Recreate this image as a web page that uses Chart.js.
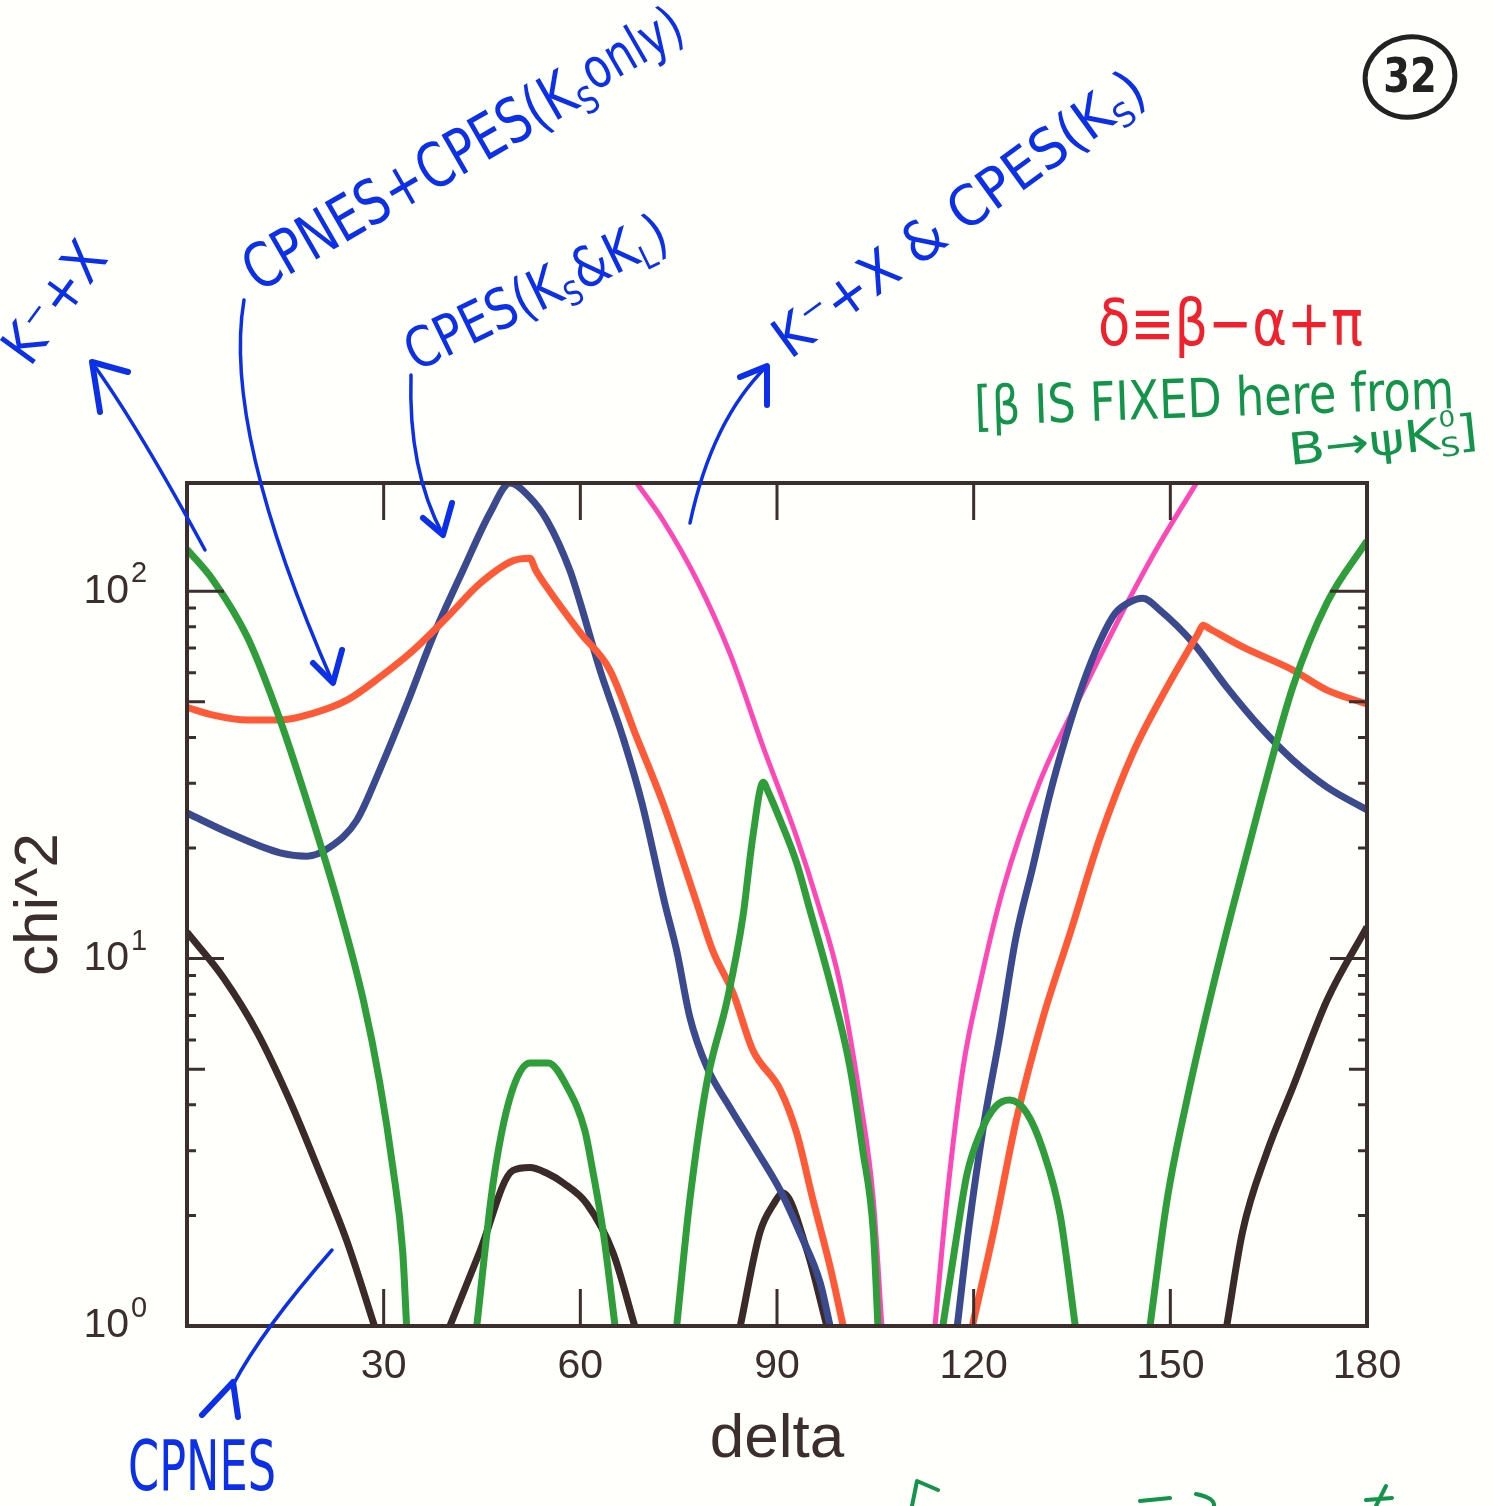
<!DOCTYPE html>
<html>
<head>
<meta charset="utf-8">
<script src="https://cdn.jsdelivr.net/npm/chart.js@4.4.0/dist/chart.umd.min.js"></script>
<style>
  html, body { margin: 0; padding: 0; background: #fffffb; }
  canvas { display: block; }
</style>
</head>
<body>
<canvas id="chi2Chart" width="1494" height="1506"></canvas>
<script>
// chi^2 vs delta scans, one array pair per fit; null splits a curve into arcs

// K-+X
const kxDelta = [0, 4, 9.2, 14.2, 19.2, 23.1, 26.9, 29.4, 31.4, 32.9, 33.5, null,
  44.2, 46.7, 49.3, 52.3, 55.1, 58, 60.7, 61.8, 63.5, 65.3, null,
  74.7, 76.7, 79.3, 82.4, 84.8, 86.3, 87.9, 88.6, 90.5, 93, 95, 98.1, 101.1, 103.1, 104.7, 105.4, null,
  115.3, 117.5, 119, 121, 123.3, 125.5, 128.1, 130.6, 133.2, 135.5, null,
  146.9, 149.5, 152.5, 156, 159.3, 163.7, 168.7, 173.9, 180];
const kxChi2 = [130, 107, 75, 44.6, 23.8, 14, 7.7, 4.6, 2.7, 1.6, 1, null,
  1, 2.45, 4.2, 5.2, 5.2, 4.47, 3.4, 2.7, 1.8, 1, null,
  1, 2.2, 4.6, 7.7, 13, 21.4, 30.2, 28.6, 23.8, 18.2, 13.6, 8.6, 5.1, 3.0, 1.8, 1, null,
  1, 1.8, 2.6, 3.35, 3.95, 4.12, 3.8, 3.0, 2.0, 1, null,
  1, 2.2, 4.1, 7.7, 13.3, 26.5, 55, 93, 137];

// CPNES+CPES (Ks only)
const cpnesCpesKsDelta = [0, 4, 9.2, 14.2, 19.2, 24.4, 29.4, 34.5, 39.7, 44.7, 49.7, 52.3, 53.2, 54.9, 60, 64.5, 68.6,
  72.6, 77.8, 80.2, 83.3, 86.3, 90.5, 93, 95.5, 98.1, 100.1, null,
  119.8, 123, 126.6, 130.6, 134.7, 139.3, 144.3, 149.5, 154.2, 155, 156, 161.1, 168.7, 173.9, 180];
const cpnesCpesKsChi2 = [48.3, 46, 44.6, 44.6, 46.5, 50.5, 58.3, 69, 85, 105, 121, 123, 114, 102.5, 77, 61, 40,
  26.5, 14.1, 10.5, 8.06, 5.64, 4.39, 3.35, 2.2, 1.45, 1, null,
  1, 1.79, 3.7, 6.93, 11.7, 21.4, 36.3, 54.8, 76.5, 80.8, 79, 70.4, 61, 53.8, 49.3];

// CPES (Ks & KL)
const cpesKsKlDelta = [0, 6.6, 14.2, 18.3, 21.8, 25.9, 29.4, 33.6, 37.5, 42.1, 46.2, 49.3, 52.3, 54.9, 58.4, 60,
  63, 66.5, 69.4, 72.9, 74.7, 76.7, 79.3, 82.8, 86.9, 90.5, 93.5, 96.6, 98.1, null,
  117.5, 119.3, 121.4, 124, 126.4, 129, 131.6, 134, 136.6, 139.2, 141.6, 143.8, 145.8, 148.4, 153.5, 158.6,
  163.7, 168.7, 173.9, 180];
const cpesKsKlChi2 = [24.9, 21.9, 19.4, 19.0, 20.1, 23.8, 32.6, 49.6, 75, 114, 163, 197, 180, 156, 114, 92.8,
  61, 40, 26.5, 14.1, 10.5, 6.93, 5.07, 3.94, 3.0, 2.34, 1.79, 1.31, 1, null,
  1, 1.87, 3.41, 6.19, 11.3, 17.7, 27.9, 39.8, 55.5, 72.6, 87.1, 93.4, 95.7, 88.8, 72.2, 54.8,
  42.7, 34.7, 29.3, 25.4];

// K-+X & CPES (Ks)
const kxCpesKsDelta = [68.6, 72.6, 77.8, 82.8, 87.9, 93, 96.1, 99.6, 102.7, 104.7, 106, null,
  114.1, 115.9, 118.4, 121, 124.5, 130, 137, 143.4, 148.4, 154];
const kxCpesKsChi2 = [197, 156, 107, 67.8, 37.6, 21.4, 14.4, 8.57, 4.12, 2.2, 1, null,
  1, 2.2, 5.07, 8.6, 15.5, 30, 55, 92.7, 135, 197];

// CPNES
const cpnesDelta = [0, 5.5, 10.7, 15.7, 20.3, 24.4, 28.6, null,
  40.1, 44.7, 49.7, 52.3, 55, 57.4, 61, 65, 68.3, null,
  84.4, 87.4, 89.5, 90.9, 94.6, 97.6, null,
  158.6, 161, 164.7, 168.7, 173.9, 180];
const cpnesChi2 = [11.8, 8.9, 6.3, 4.1, 2.6, 1.7, 1, null,
  1, 1.6, 2.65, 2.7, 2.6, 2.45, 2.15, 1.58, 1, null,
  1, 1.8, 2.15, 2.3, 1.6, 1, null,
  1, 1.8, 2.96, 4.47, 7.7, 12.2];

const deltaTicks = [30, 60, 90, 120, 150, 180];
const chi2Decades = [0, 1, 2];

const AXIS = '#3b2e2c';
const FONT = '"Liberation Sans", Arial, Helvetica, sans-serif';
const HAND = '"DejaVu Sans", sans-serif';
const BLUE = '#0c30ea';
const RED = '#f0202c';
const GREEN = '#12954a';

function points(delta, chi2) {
  let last = 0;
  return delta.map((d, i) => {
    if (d !== null) last = d;
    return {x: last, y: chi2[i]};
  });
}

function curve(delta, chi2, color, width) {
  return {
    data: points(delta, chi2),
    borderColor: color,
    borderWidth: width,
    borderCapStyle: 'butt',
    borderJoinStyle: 'round',
    cubicInterpolationMode: 'monotone',
    pointRadius: 0,
    fill: false,
    spanGaps: false
  };
}

// handwritten notes around the plot; back pulls a run left over the previous one
const notes = [
  {parts: [{t: 'K⁻+X'}], x: 30, y: 368, angle: -54, width: 135, size: 56, color: BLUE},
  {parts: [{t: 'CPNES+CPES(K'}, {t: 'S', s: 0.6, dy: 0.18}, {t: 'only)', s: 0.9, dy: -0.1}],
    x: 258, y: 293, angle: -30, width: 500, size: 62, color: BLUE},
  {parts: [{t: 'CPES(K'}, {t: 'S', s: 0.6, dy: 0.18}, {t: '&K'}, {t: 'L', s: 0.6, dy: 0.18}, {t: ')'}],
    x: 416, y: 372, angle: -26, width: 285, size: 56, color: BLUE},
  {parts: [{t: 'K⁻+X & CPES(K'}, {t: 'S', s: 0.6, dy: 0.18}, {t: ')'}],
    x: 790, y: 360, angle: -36, width: 445, size: 56, color: BLUE},
  {parts: [{t: 'δ≡β−α+π'}], x: 1098, y: 345, angle: 0, width: 265, size: 64, color: RED},
  {parts: [{t: '[β IS FIXED here from'}], x: 975, y: 425, angle: -2, width: 480, size: 54, color: GREEN},
  {parts: [{t: 'B→ψK'}, {t: 'S', s: 0.6, dy: 0.18}, {t: '0', s: 0.5, dy: -0.5, back: 0.6}, {t: ']'}],
    x: 1290, y: 465, angle: -6, width: 190, size: 44, color: GREEN},
  {parts: [{t: 'CPNES'}], x: 128, y: 1490, angle: 0, width: 148, size: 70, color: BLUE}
];

const arrows = [
  {from: [205, 550], ctrl: [140, 430], to: [96, 368], head: [[100, 412], [92, 362], [128, 372]]},
  {from: [244, 300], ctrl: [222, 430], to: [333, 683], head: [[313, 663], [333, 683], [342, 650]]},
  {from: [411, 375], ctrl: [408, 470], to: [443, 535], head: [[423, 518], [443, 535], [452, 503]]},
  {from: [690, 523], ctrl: [712, 420], to: [767, 366], head: [[740, 377], [767, 366], [767, 405]]},
  {from: [332, 1250], ctrl: [262, 1330], to: [233, 1385], head: [[202, 1415], [233, 1382], [238, 1417]]}
];

function drawNote(ctx, note) {
  ctx.save();
  ctx.translate(note.x, note.y);
  ctx.rotate(note.angle * Math.PI / 180);
  let w = 0;
  const runs = note.parts.map(p => {
    const font = (note.size * (p.s || 1)).toFixed(1) + 'px ' + HAND;
    ctx.font = font;
    if (p.back) w -= p.back * note.size * 0.6;
    const run = {t: p.t, font, x: w, dy: (p.dy || 0) * note.size};
    w += ctx.measureText(p.t).width;
    return run;
  });
  ctx.scale(note.width / w, 1);
  ctx.fillStyle = note.color;
  ctx.textBaseline = 'alphabetic';
  runs.forEach(r => {
    ctx.font = r.font;
    ctx.fillText(r.t, r.x, r.dy);
  });
  ctx.restore();
}

const frameAndNotes = {
  id: 'frameAndNotes',
  afterDatasetsDraw(chart) {
    const {ctx, chartArea: a, scales: {x, y}} = chart;
    ctx.save();
    ctx.strokeStyle = AXIS;
    ctx.lineWidth = 3;
    ctx.beginPath();
    deltaTicks.forEach(v => {
      if (v >= x.max) return;
      const px = x.getPixelForValue(v);
      ctx.moveTo(px, a.bottom); ctx.lineTo(px, a.bottom - 37);
      ctx.moveTo(px, a.top); ctx.lineTo(px, a.top + 37);
    });
    chi2Decades.forEach(e => {
      for (let m = 1; m <= 9; m++) {
        const v = m * Math.pow(10, e);
        if (v <= y.min || v >= y.max) continue;
        const py = y.getPixelForValue(v);
        const len = m === 1 ? 37 : (m === 5 ? 18 : 9);
        ctx.moveTo(a.left, py); ctx.lineTo(a.left + len, py);
        ctx.moveTo(a.right, py); ctx.lineTo(a.right - len, py);
      }
    });
    ctx.stroke();
    ctx.lineWidth = 4;
    ctx.strokeRect(a.left, a.top, a.right - a.left, a.bottom - a.top);

    // log axis labels as 10 with a raised exponent
    ctx.fillStyle = AXIS;
    ctx.textBaseline = 'middle';
    chi2Decades.forEach(e => {
      const py = y.getPixelForValue(Math.pow(10, e));
      ctx.font = '41px ' + FONT;
      ctx.textAlign = 'right';
      ctx.fillText('10', a.left - 58, py);
      ctx.font = '29px ' + FONT;
      ctx.textAlign = 'left';
      ctx.fillText(String(e), a.left - 56, py - 17);
    });
    ctx.restore();
  },
  afterDraw(chart) {
    const ctx = chart.ctx;
    notes.forEach(n => drawNote(ctx, n));

    ctx.save();
    ctx.strokeStyle = BLUE;
    ctx.lineCap = 'round';
    ctx.lineJoin = 'round';
    arrows.forEach(ar => {
      ctx.lineWidth = 3.5;
      ctx.beginPath();
      ctx.moveTo(ar.from[0], ar.from[1]);
      ctx.quadraticCurveTo(ar.ctrl[0], ar.ctrl[1], ar.to[0], ar.to[1]);
      ctx.stroke();
      ctx.lineWidth = 6;
      ctx.beginPath();
      ctx.moveTo(ar.head[0][0], ar.head[0][1]);
      ctx.lineTo(ar.head[1][0], ar.head[1][1]);
      ctx.lineTo(ar.head[2][0], ar.head[2][1]);
      ctx.stroke();
    });

    // page number in a circle
    ctx.strokeStyle = '#222';
    ctx.lineWidth = 5;
    ctx.beginPath();
    ctx.ellipse(1410, 77, 45, 40, -0.2, 0, Math.PI * 2);
    ctx.stroke();
    ctx.fillStyle = '#222';
    ctx.font = 'bold 48px ' + HAND;
    ctx.textAlign = 'center';
    ctx.textBaseline = 'middle';
    ctx.save();
    ctx.translate(1410, 80);
    ctx.scale(0.8, 1);
    ctx.fillText('32', 0, 0);
    ctx.restore();

    // cut-off green scribbles at the page foot
    ctx.strokeStyle = GREEN;
    ctx.lineWidth = 4;
    ctx.beginPath();
    ctx.moveTo(912, 1506); ctx.lineTo(917, 1481); ctx.lineTo(938, 1490);
    ctx.moveTo(1140, 1501); ctx.lineTo(1170, 1498);
    ctx.moveTo(1196, 1494); ctx.quadraticCurveTo(1215, 1498, 1214, 1506);
    ctx.moveTo(1386, 1486); ctx.lineTo(1376, 1506);
    ctx.moveTo(1366, 1500); ctx.lineTo(1392, 1498);
    ctx.stroke();
    ctx.restore();
  }
};

new Chart(document.getElementById('chi2Chart'), {
  type: 'line',
  data: {
    datasets: [
      curve(kxDelta, kxChi2, '#2e9d3a', 7),
      curve(cpnesCpesKsDelta, cpnesCpesKsChi2, '#ff5a38', 7),
      curve(cpesKsKlDelta, cpesKsKlChi2, '#3b4a8e', 7),
      curve(kxCpesKsDelta, kxCpesKsChi2, '#ff48b8', 5),
      curve(cpnesDelta, cpnesChi2, '#3a2a28', 7)
    ]
  },
  options: {
    responsive: false,
    animation: false,
    layout: {padding: {top: 483, right: 127, left: 0, bottom: 0}},
    plugins: {legend: {display: false}, tooltip: {enabled: false}},
    scales: {
      x: {
        type: 'linear',
        min: 0,
        max: 180,
        grid: {display: false, drawTicks: false},
        border: {display: false},
        ticks: {
          stepSize: 30,
          padding: 16,
          color: AXIS,
          font: {family: FONT, size: 41},
          maxRotation: 0,
          callback: v => (deltaTicks.includes(v) ? String(v) : '')
        },
        title: {
          display: true,
          text: 'delta',
          color: AXIS,
          font: {family: FONT, size: 62},
          padding: {top: 0, bottom: 29}
        },
        afterFit: s => { s.height = 180; }
      },
      y: {
        type: 'logarithmic',
        min: 1,
        max: 197,
        grid: {display: false, drawTicks: false},
        border: {display: false},
        ticks: {display: false},
        title: {
          display: true,
          text: 'chi^2',
          color: AXIS,
          font: {family: FONT, size: 62},
          padding: {top: 3, bottom: 0}
        },
        afterFit: s => { s.width = 187; }
      }
    }
  },
  plugins: [frameAndNotes]
});
</script>
</body>
</html>
